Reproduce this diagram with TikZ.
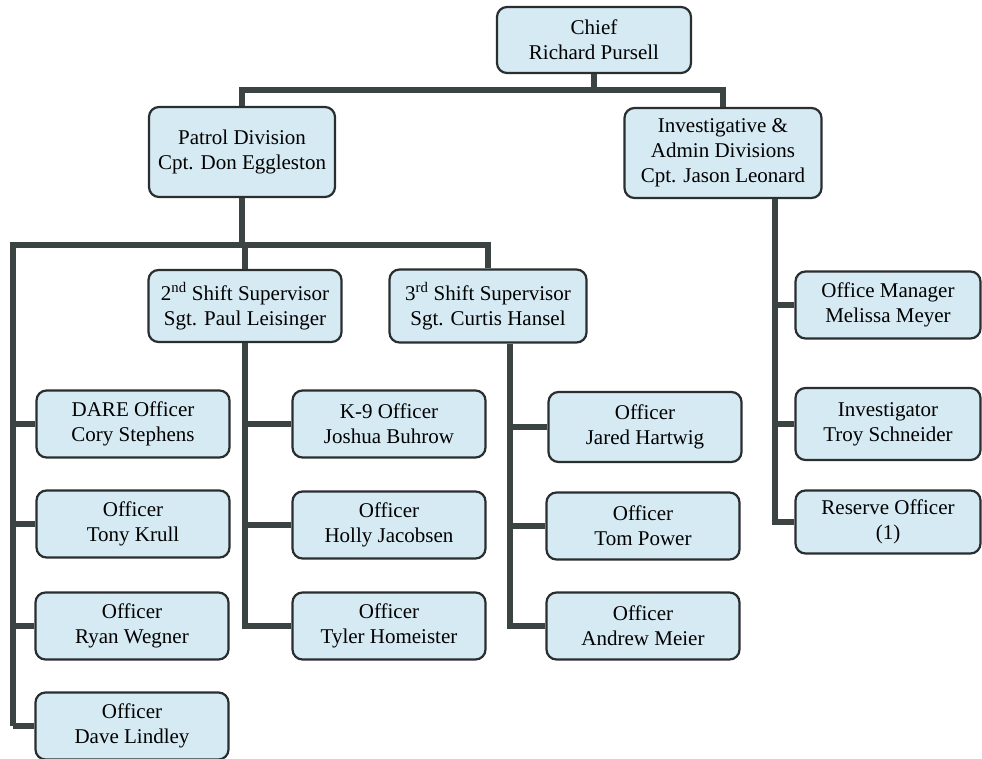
\documentclass[tikz,border=0pt]{standalone}
\usepackage{fontspec}
\setmainfont{Liberation Serif}
\usepackage{xcolor}
\usetikzlibrary{positioning}

\definecolor{boxfill}{HTML}{D5EAF3}
\definecolor{boxline}{HTML}{2A2E2F}
\definecolor{barline}{HTML}{3C4343}

\begin{document}
\begin{tikzpicture}[
    x=1pt,
    y=-1pt,
    line join=miter
]

\tikzstyle{post}=[
    draw=boxline,
    fill=boxfill,
    line width=2.2pt,
    rounded corners=10pt,
    align=center,
    inner sep=2pt,
    font=\fontsize{21}{25}\selectfont
]
\tikzstyle{officer}=[post, minimum width=193pt, minimum height=67pt]
\tikzstyle{bar}=[draw=barline, line width=6pt]

\clip (0,0) rectangle (982,758);

\node[post, minimum width=194pt, minimum height=66pt] (chief) at (594,40) {Chief\\Richard Pursell};

\node[post, minimum width=186pt, minimum height=90pt] (patrol) at (242,152) {Patrol Division\\Cpt. Don Eggleston};
\node[post, minimum width=197pt, minimum height=90pt] (invest) at (723,153) {Investigative \&\\Admin Divisions\\Cpt. Jason Leonard};

\node[post, minimum width=193pt, minimum height=72pt] (shifttwo) at (245,306) {2\textsuperscript{nd} Shift Supervisor\\Sgt. Paul Leisinger};
\node[post, minimum width=197pt, minimum height=73pt] (shiftthree) at (488,306) {3\textsuperscript{rd} Shift Supervisor\\Sgt. Curtis Hansel};

\node[officer] (dare) at (133,424) {DARE Officer\\Cory Stephens};
\node[officer] (krull) at (133,524) {Officer\\Tony Krull};
\node[officer] (wegner) at (132,626) {Officer\\Ryan Wegner};
\node[officer] (lindley) at (132,726) {Officer\\Dave Lindley};

\node[officer] (buhrow) at (389,424) {K-9 Officer\\Joshua Buhrow};
\node[officer] (jacobsen) at (389,525) {Officer\\Holly Jacobsen};
\node[officer] (homeister) at (389,626) {Officer\\Tyler Homeister};

\node[officer, minimum height=70pt] (hartwig) at (645,427) {Officer\\Jared Hartwig};
\node[officer] (power) at (643,526) {Officer\\Tom Power};
\node[officer] (meier) at (643,626) {Officer\\Andrew Meier};

\node[officer, minimum width=185pt] (meyer) at (888,305) {Office Manager\\Melissa Meyer};
\node[officer, minimum width=185pt, minimum height=72pt] (schneider) at (888,424) {Investigator\\Troy Schneider};
\node[officer, minimum width=185pt, minimum height=63pt] (reserve) at (888,522) {Reserve Officer\\(1)};

\coordinate (topbar) at (594,90);
\coordinate (patbar) at (242,245);
\coordinate (lefttrunk) at (13,245);
\coordinate (twotrunk) at (245,0);
\coordinate (threetrunk) at (510,0);
\coordinate (invtrunk) at (775,0);

\draw[bar] (chief.south) -- (topbar);
\draw[bar] (patrol.north) |- (topbar) -| (invest.north);

\draw[bar] (patrol.south) -- (patbar);
\draw[bar] (lefttrunk |- lindley) -- (lefttrunk) -- (shiftthree.north |- lefttrunk) -- (shiftthree.north);
\draw[bar] (shifttwo.north |- lefttrunk) -- (shifttwo.north);

\draw[bar] (lefttrunk |- dare) -- (dare.west);
\draw[bar] (lefttrunk |- krull) -- (krull.west);
\draw[bar] (lefttrunk |- wegner) -- (wegner.west);
\draw[bar] (lefttrunk |- lindley) -- (lindley.west);

\draw[bar] (shifttwo.south) |- (homeister.west);
\draw[bar] (twotrunk |- buhrow) -- (buhrow.west);
\draw[bar] (twotrunk |- jacobsen) -- (jacobsen.west);

\draw[bar] (threetrunk |- shiftthree.south) |- (meier.west);
\draw[bar] (threetrunk |- hartwig) -- (hartwig.west);
\draw[bar] (threetrunk |- power) -- (power.west);

\draw[bar] (invtrunk |- invest.south) |- (reserve.west);
\draw[bar] (invtrunk |- meyer) -- (meyer.west);
\draw[bar] (invtrunk |- schneider) -- (schneider.west);

\end{tikzpicture}
\end{document}
